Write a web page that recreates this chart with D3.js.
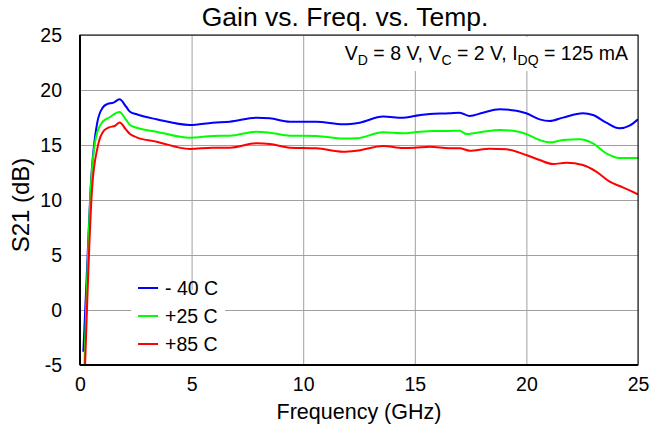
<!DOCTYPE html>
<html>
<head>
<meta charset="utf-8">
<script src="https://cdn.jsdelivr.net/npm/d3@7"></script>
<style>
  body { margin: 0; background: #fff; }
  text { font-family: "Liberation Sans", Arial, Helvetica, sans-serif; fill: #000; }
</style>
</head>
<body>
<div id="chart"></div>
<script>
// Gain vs. Freq. vs. Temp. -- S21 over 0..25 GHz at three temperatures

const xTicks = [0, 5, 10, 15, 20, 25];
const yTicks = [-5, 0, 5, 10, 15, 20, 25];

const seriesNames = ["- 40 C", "+25 C", "+85 C"];
const seriesColors = ["#0000ff", "#00ff00", "#ff0000"];

// -40 C
const coldFreq = [0.15, 0.3, 0.49, 0.77, 1.02, 1.22, 1.5, 1.77, 2.06, 2.24, 2.54, 3.43, 4.92, 5.95, 6.71, 7.91, 8.5, 9.4, 10.59, 11.79, 12.53, 13.58, 14.47, 15.0, 15.67, 16.56, 17.01, 17.46, 18.05, 18.8, 19.55, 19.99, 20.59, 21.04, 21.64, 22.53, 22.98, 23.58, 24.17, 24.62, 25.0];
const coldGain = [-3.8, 3.0, 11.5, 17.0, 18.4, 18.72, 18.85, 19.15, 18.5, 18.03, 17.79, 17.34, 16.82, 17.03, 17.12, 17.48, 17.43, 17.12, 17.12, 16.88, 17.03, 17.58, 17.48, 17.64, 17.82, 17.88, 17.94, 17.64, 17.94, 18.24, 18.12, 17.88, 17.33, 17.18, 17.49, 17.88, 17.73, 17.03, 16.52, 16.76, 17.33];

// +25 C
const roomFreq = [0.2, 0.49, 0.72, 1.01, 1.31, 1.77, 2.06, 2.24, 2.54, 3.43, 4.92, 5.95, 6.71, 7.91, 8.5, 9.4, 10.59, 11.79, 12.39, 13.58, 14.47, 15.0, 15.82, 16.56, 17.01, 17.31, 18.05, 18.8, 19.4, 19.99, 20.59, 21.04, 21.64, 22.38, 22.98, 23.58, 24.17, 25.0];
const roomGain = [-4.9, 11.3, 15.75, 17.1, 17.5, 18.0, 17.3, 16.82, 16.57, 16.21, 15.66, 15.82, 15.85, 16.21, 16.12, 15.85, 15.82, 15.58, 15.61, 16.15, 16.06, 16.15, 16.27, 16.27, 16.3, 16.0, 16.21, 16.36, 16.3, 16.0, 15.45, 15.24, 15.45, 15.52, 15.15, 14.24, 13.82, 13.82];

// +85 C
const hotFreq = [0.22, 0.54, 0.8, 1.07, 1.3, 1.57, 1.78, 2.06, 2.24, 2.54, 3.43, 4.92, 5.95, 6.71, 7.91, 8.5, 9.4, 10.59, 11.79, 12.39, 13.58, 14.47, 15.0, 15.67, 16.56, 17.01, 17.46, 18.35, 19.1, 19.99, 20.59, 21.19, 21.79, 22.53, 23.13, 23.73, 24.32, 25.0];
const hotGain = [-5.5, 11.0, 14.9, 16.3, 16.6, 16.75, 17.05, 16.4, 16.0, 15.7, 15.3, 14.64, 14.76, 14.76, 15.15, 15.09, 14.76, 14.7, 14.39, 14.48, 14.91, 14.73, 14.76, 14.85, 14.7, 14.7, 14.48, 14.67, 14.61, 14.09, 13.64, 13.27, 13.39, 13.18, 12.58, 11.67, 11.15, 10.52];

const series = [
  { name: seriesNames[0], color: seriesColors[0], pts: coldFreq.map((f, i) => [f, coldGain[i]]) },
  { name: seriesNames[1], color: seriesColors[1], pts: roomFreq.map((f, i) => [f, roomGain[i]]) },
  { name: seriesNames[2], color: seriesColors[2], pts: hotFreq.map((f, i) => [f, hotGain[i]]) }
];

const width = 650, height = 427;
const margin = { top: 35, right: 12, bottom: 62, left: 80 };
const w = width - margin.left - margin.right;
const h = height - margin.top - margin.bottom;

const svg = d3.select("#chart").append("svg")
  .attr("width", width)
  .attr("height", height);

const g = svg.append("g").attr("transform", `translate(${margin.left},${margin.top})`);

const x = d3.scaleLinear().domain([0, 25]).range([0, w]);
const y = d3.scaleLinear().domain([-5, 25]).range([h, 0]);

// grid
g.append("g")
  .attr("class", "grid")
  .call(d3.axisBottom(x).tickValues(xTicks).tickSize(h).tickFormat(""))
  .call(s => s.select(".domain").remove())
  .selectAll("line").attr("stroke", "#a0a0a0").attr("stroke-width", 1);

g.append("g")
  .attr("class", "grid")
  .call(d3.axisLeft(y).tickValues(yTicks).tickSize(-w).tickFormat(""))
  .call(s => s.select(".domain").remove())
  .selectAll("line").attr("stroke", "#a0a0a0").attr("stroke-width", 1);

// annotation backdrop
g.append("rect")
  .attr("x", x(11.6)).attr("y", 2)
  .attr("width", w - x(11.6) - 2).attr("height", 34)
  .attr("fill", "#fff");

// legend backdrop
g.append("rect")
  .attr("x", x(2.3)).attr("y", y(1.8))
  .attr("width", x(6.5) - x(2.3)).attr("height", y(-5.7) - y(1.8))
  .attr("fill", "#fff");

// curves
g.append("clipPath").attr("id", "clip")
  .append("rect").attr("width", w).attr("height", h);

const line = d3.line()
  .x(d => x(d[0]))
  .y(d => y(d[1]))
  .curve(d3.curveMonotoneX);

g.append("g").attr("clip-path", "url(#clip)")
  .selectAll("path")
  .data(series)
  .join("path")
  .attr("d", d => line(d.pts))
  .attr("fill", "none")
  .attr("stroke", d => d.color)
  .attr("stroke-width", 2);

// frame
g.append("rect")
  .attr("width", w).attr("height", h)
  .attr("fill", "none").attr("stroke", "#000").attr("stroke-width", 1);
g.append("line").attr("x1", 0).attr("x2", 0).attr("y1", 0).attr("y2", h)
  .attr("stroke", "#000").attr("stroke-width", 2);
g.append("line").attr("x1", 0).attr("x2", w).attr("y1", h).attr("y2", h)
  .attr("stroke", "#000").attr("stroke-width", 2);

// tick labels
g.append("g")
  .attr("transform", `translate(0,${h})`)
  .call(d3.axisBottom(x).tickValues(xTicks).tickSize(0).tickPadding(12).tickFormat(String))
  .call(s => s.select(".domain").remove())
  .selectAll("text")
  .style("font-size", "19.5px");

g.append("g")
  .call(d3.axisLeft(y).tickValues(yTicks).tickSize(0).tickPadding(18).tickFormat(String))
  .call(s => s.select(".domain").remove())
  .selectAll("text")
  .style("font-size", "19.5px");

// axis titles
svg.append("text")
  .attr("x", margin.left + w / 2)
  .attr("y", 419)
  .attr("text-anchor", "middle")
  .style("font-size", "21.5px")
  .text("Frequency (GHz)");

svg.append("text")
  .attr("transform", `translate(29,205) rotate(-90)`)
  .attr("text-anchor", "middle")
  .style("font-size", "24px")
  .text("S21 (dB)");

svg.append("text")
  .attr("x", 345)
  .attr("y", 26)
  .attr("text-anchor", "middle")
  .style("font-size", "26.5px")
  .text("Gain vs. Freq. vs. Temp.");

// bias conditions
const note = svg.append("text")
  .attr("x", 628)
  .attr("y", 60)
  .attr("text-anchor", "end")
  .style("font-size", "19.5px");
const parts = [["V", ""], ["D", "sub"], [" = 8 V, V", ""], ["C", "sub"], [" = 2 V, I", ""], ["DQ", "sub"], [" = 125 mA", ""]];
parts.forEach(([t, k], i) => {
  const ts = note.append("tspan").text(t);
  if (k === "sub") ts.attr("dy", 5).style("font-size", "14px");
  else if (i > 0) ts.attr("dy", -5);
});

// legend
const legend = g.append("g")
  .attr("transform", `translate(${x(2.6)},${y(2.0)})`);
series.forEach((s, i) => {
  const row = legend.append("g").attr("transform", `translate(0,${i * 28})`);
  row.append("line")
    .attr("x1", 0).attr("x2", 20)
    .attr("stroke", s.color).attr("stroke-width", 2);
  row.append("text")
    .attr("x", 27).attr("y", 7)
    .style("font-size", "19.5px")
    .text(s.name);
});
</script>
</body>
</html>
